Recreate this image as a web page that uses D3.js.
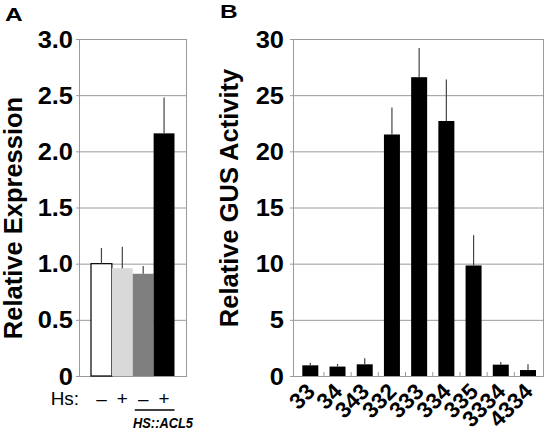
<!DOCTYPE html>
<html><head><meta charset="utf-8">
<script src="https://cdn.jsdelivr.net/npm/d3@7"></script>
<style>body{margin:0;background:#fff} svg{display:block} text{font-family:"Liberation Sans",Arial,Helvetica,sans-serif}</style>
</head><body><svg id="c" width="551" height="445"></svg>
<script>
// Panel A data
const aCategories = ["c-", "c+", "hs-", "hs+"];
const aHsLabels = ["\u2013", "+", "\u2013", "+"];
const aValues = [1.00, 0.96, 0.91, 2.16];
const aErrors = [0.14, 0.19, 0.07, 0.32];
const aColors = ["#ffffff", "#d9d9d9", "#7f7f7f", "#000000"];
const aTicks = [0, 0.5, 1.0, 1.5, 2.0, 2.5, 3.0];
const aTickLabels = ["0", "0.5", "1.0", "1.5", "2.0", "2.5", "3.0"];
// Panel B data
const bCategories = ["33", "34", "343", "332", "333", "334", "335", "3334", "4334"];
const bValues = [0.95, 0.84, 1.04, 21.5, 26.6, 22.7, 9.84, 1.01, 0.53];
const bErrors = [0.24, 0.23, 0.54, 2.4, 2.6, 3.7, 2.7, 0.24, 0.51];
const bTicks = [0, 5, 10, 15, 20, 25, 30];
const bTickLabels = ["0", "5", "10", "15", "20", "25", "30"];

const svg = d3.select("#c");
const gridColor = "#9a9a9a";

function stext(x, y, str, size, weight, sx, anchor, style) {
  return svg.append("text")
    .attr("transform", `translate(${x},${y}) scale(${sx},1)`)
    .attr("text-anchor", anchor || "start")
    .attr("font-size", size).attr("font-weight", weight)
    .attr("font-style", style || "normal")
    .attr("fill", "#000").text(str);
}

function panel(opts) {
  const {x0, x1, y0, y1, domain, ticks, tickLabels, labelGap} = opts;
  const y = d3.scaleLinear().domain(domain).range([y1, y0]);
  const g = svg.append("g");
  g.selectAll("line.grid").data(ticks).join("line")
    .attr("x1", x0 - 3).attr("x2", x1)
    .attr("y1", d => y(d) + 0.5).attr("y2", d => y(d) + 0.5)
    .attr("stroke", gridColor).attr("stroke-width", 1);
  g.append("rect").attr("x", x0 + 0.5).attr("y", y0 + 0.5)
    .attr("width", x1 - x0).attr("height", y1 - y0)
    .attr("fill", "none").attr("stroke", gridColor).attr("stroke-width", 1);
  ticks.forEach((t, i) => {
    stext(x0 - labelGap, y(t) + 8.5, tickLabels[i], 24, "bold", 1.06, "end");
  });
  return y;
}

// ---------- Panel A ----------
const yA = panel({x0: 79, x1: 186, y0: 39, y1: 376, domain: [0, 3], ticks: aTicks, tickLabels: aTickLabels, labelGap: 6});
const xA = d3.scaleBand().domain(aCategories).range([91, 174.5]).padding(0);
svg.append("g").selectAll("rect").data(aCategories).join("rect")
  .attr("x", d => xA(d)).attr("width", xA.bandwidth())
  .attr("y", (d, i) => yA(aValues[i])).attr("height", (d, i) => yA(0) - yA(aValues[i]))
  .attr("fill", (d, i) => aColors[i])
  .attr("stroke", (d, i) => i === 0 ? "#000" : "none").attr("stroke-width", 1.2);
svg.append("g").selectAll("line").data(aCategories).join("line")
  .attr("x1", d => xA(d) + xA.bandwidth() / 2).attr("x2", d => xA(d) + xA.bandwidth() / 2)
  .attr("y1", (d, i) => yA(aValues[i])).attr("y2", (d, i) => yA(aValues[i] + aErrors[i]))
  .attr("stroke", "#444").attr("stroke-width", 1.2);

// Hs row
stext(79, 405, "Hs:", 18, "normal", 1.05, "end");
aCategories.forEach((c, i) => {
  stext(xA(c) + xA.bandwidth() / 2, 405, aHsLabels[i], 18, "normal", 1.05, "middle");
});
svg.append("line").attr("x1", xA(aCategories[2]) + 2).attr("x2", xA(aCategories[3]) + xA.bandwidth())
  .attr("y1", 410).attr("y2", 410).attr("stroke", "#000").attr("stroke-width", 1.5);
stext(163, 428, "HS::ACL5", 15.5, "bold", 0.83, "middle", "italic");

// axis title A
svg.append("text").attr("transform", "translate(22,218) rotate(-90)")
  .attr("text-anchor", "middle").attr("font-size", 25.5).attr("font-weight", "bold")
  .text("Relative Expression");
stext(5, 21, "A", 17.5, "bold", 1.4, "start");

// ---------- Panel B ----------
const yB = panel({x0: 293, x1: 543, y0: 39, y1: 376, domain: [0, 30], ticks: bTicks, tickLabels: bTickLabels, labelGap: 9});
const xB = d3.scaleBand().domain(bCategories).range([295.5, 542.8]).paddingInner(0.412).paddingOuter(0.25);
const stepB = xB.step();
svg.append("g").selectAll("line").data(bCategories.slice(1)).join("line")
  .attr("x1", d => xB(d) + xB.bandwidth() / 2 - stepB / 2).attr("x2", d => xB(d) + xB.bandwidth() / 2 - stepB / 2)
  .attr("y1", yB(0) - 4).attr("y2", yB(0)).attr("stroke", gridColor).attr("stroke-width", 1);
svg.append("g").selectAll("rect").data(bCategories).join("rect")
  .attr("x", d => xB(d)).attr("width", xB.bandwidth())
  .attr("y", (d, i) => yB(bValues[i])).attr("height", (d, i) => yB(0) - yB(bValues[i]))
  .attr("fill", "#000");
svg.append("g").selectAll("line.err").data(bCategories).join("line")
  .attr("x1", d => xB(d) + xB.bandwidth() / 2).attr("x2", d => xB(d) + xB.bandwidth() / 2)
  .attr("y1", (d, i) => yB(bValues[i])).attr("y2", (d, i) => yB(bValues[i] + bErrors[i]))
  .attr("stroke", "#444").attr("stroke-width", 1.2);
bCategories.forEach(c => {
  const cx = xB(c) + xB.bandwidth() / 2;
  svg.append("text").attr("transform", `translate(${cx + 6},${393}) rotate(-45)`)
    .attr("text-anchor", "end").attr("font-size", 22.5).attr("font-weight", "bold").text(c);
});
svg.append("text").attr("transform", "translate(238,198) rotate(-90)")
  .attr("text-anchor", "middle").attr("font-size", 25.5).attr("font-weight", "bold")
  .text("Relative GUS Activity");
stext(220, 18, "B", 17.5, "bold", 1.4, "start");
</script></body></html>
